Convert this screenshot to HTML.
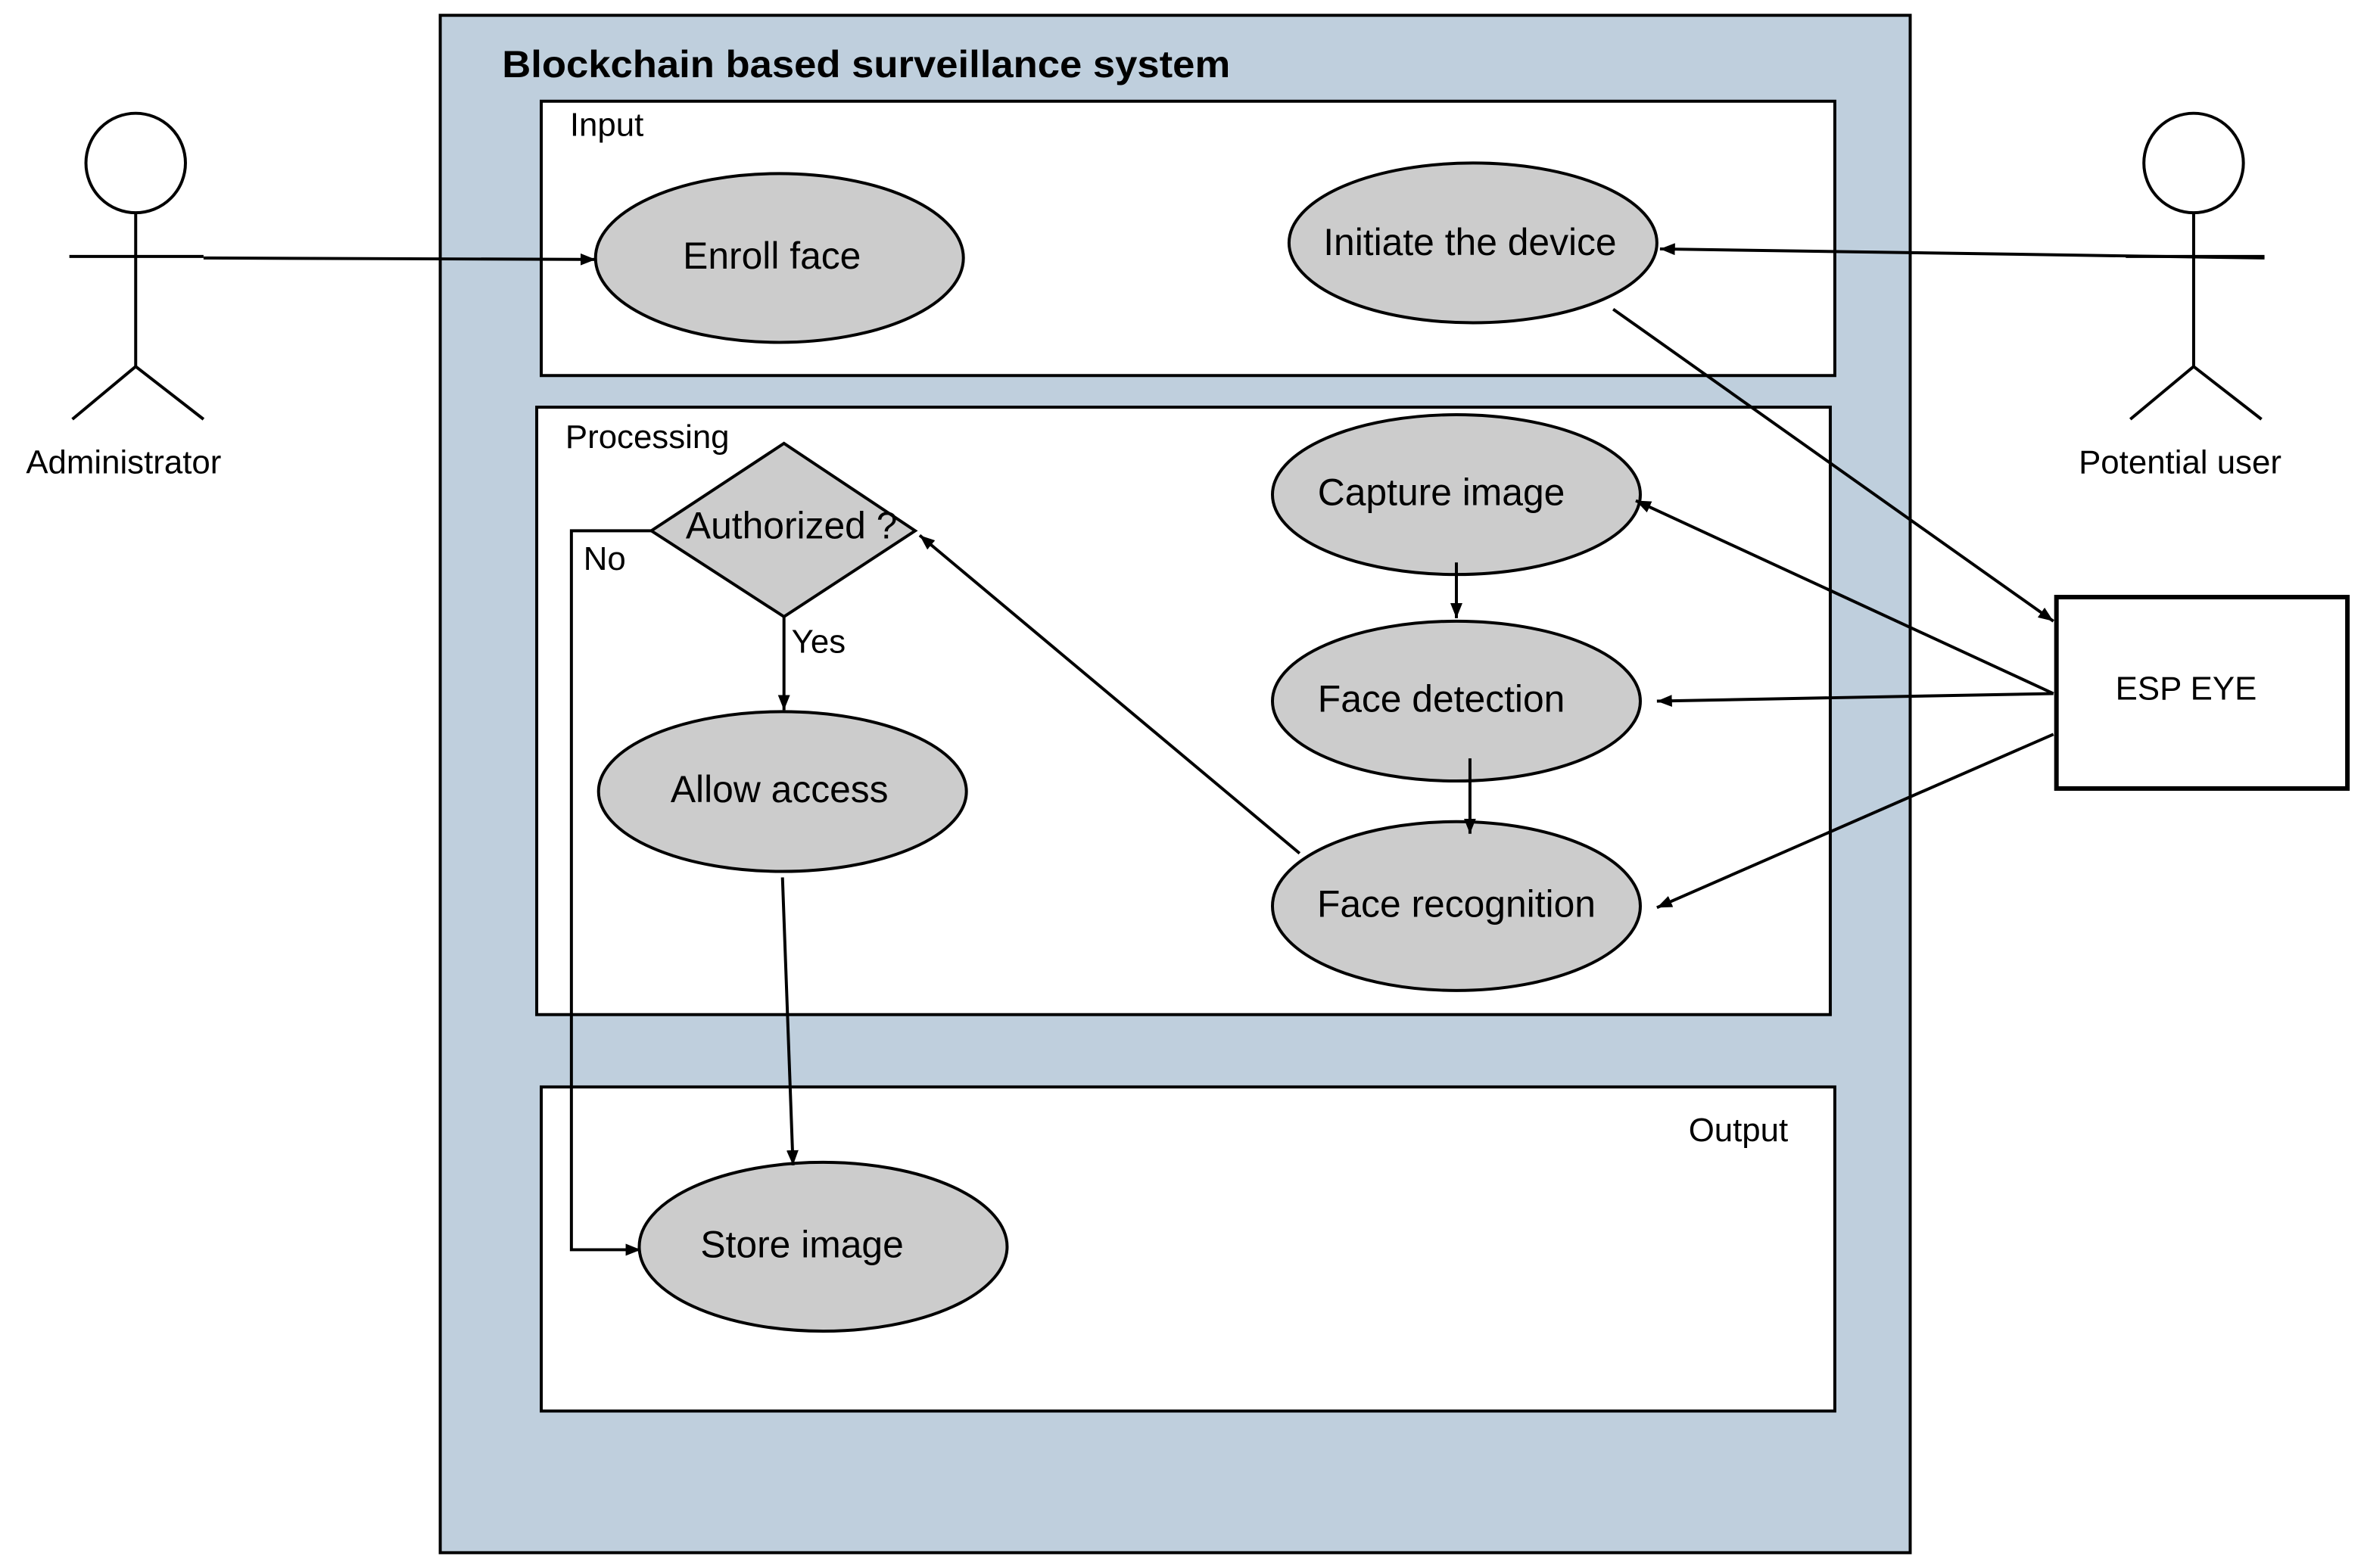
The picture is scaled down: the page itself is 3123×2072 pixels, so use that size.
<!DOCTYPE html>
<html><head><meta charset="utf-8"><style>html,body{margin:0;padding:0;background:#fff}svg{display:block}</style></head>
<body>
<svg width="3123" height="2072" viewBox="0 0 1568 1040" xmlns="http://www.w3.org/2000/svg" font-family="Liberation Sans, Arial, sans-serif">
<defs><marker id="a" markerWidth="10" markerHeight="8" refX="10" refY="4" orient="auto" markerUnits="userSpaceOnUse"><path d="M0,0 L10,4 L0,8 z" fill="#000"/></marker></defs>
<rect x="0" y="0" width="1568" height="1040" fill="#fff"/>
<rect x="292" y="10" width="975" height="1020" fill="#bfcfdd" stroke="#000" stroke-width="2"/>
<text x="333" y="51" font-size="25" font-weight="bold" textLength="483" lengthAdjust="spacingAndGlyphs">Blockchain based surveillance system</text>
<rect x="359" y="67" width="858" height="182" fill="#fff" stroke="#000" stroke-width="2"/>
<text x="378" y="90" font-size="22">Input</text>
<rect x="356" y="270" width="858" height="403" fill="#fff" stroke="#000" stroke-width="2"/>
<text x="375" y="297" font-size="22">Processing</text>
<rect x="359" y="721" width="858" height="215" fill="#fff" stroke="#000" stroke-width="2"/>
<text x="1120" y="757" font-size="22">Output</text>
<g fill="#cccccc" stroke="#000" stroke-width="2">
<ellipse cx="517" cy="171" rx="122" ry="56"/>
<ellipse cx="977" cy="161" rx="122" ry="53"/>
<ellipse cx="966" cy="328" rx="122" ry="53"/>
<ellipse cx="966" cy="465" rx="122" ry="53"/>
<ellipse cx="966" cy="601" rx="122" ry="56"/>
<ellipse cx="519" cy="525" rx="122" ry="53"/>
<ellipse cx="546" cy="827" rx="122" ry="56"/>
<polygon points="520,294 607,352 520,409 432,352"/>
</g>
<g font-size="25" text-anchor="middle">
<text x="512" y="178">Enroll face</text>
<text x="975" y="169">Initiate the device</text>
<text x="956" y="335">Capture image</text>
<text x="956" y="472">Face detection</text>
<text x="966" y="608">Face recognition</text>
<text x="517" y="532">Allow access</text>
<text x="532" y="834">Store image</text>
<text x="525" y="357">Authorized ?</text>
</g>
<text x="387" y="378" font-size="22">No</text>
<text x="525" y="433" font-size="22">Yes</text>
<rect x="1364" y="396" width="193" height="127" fill="#fff" stroke="#000" stroke-width="3"/>
<text x="1450" y="464" font-size="22" text-anchor="middle">ESP EYE</text>
<g fill="none" stroke="#000" stroke-width="2">
<circle cx="90" cy="108" r="33"/>
<path d="M90,141 V243 M46,170 H135 M90,243 L48,278 M90,243 L135,278"/>
<circle cx="1455" cy="108" r="33"/>
<path d="M1455,141 V243 M1410,170 H1502 M1455,243 L1413,278 M1455,243 L1500,278"/>
</g>
<text x="82" y="314" font-size="22" text-anchor="middle">Administrator</text>
<text x="1446" y="314" font-size="22" text-anchor="middle">Potential user</text>
<g fill="none" stroke="#000" stroke-width="2" marker-end="url(#a)">
<path d="M135,171 L395,172"/>
<path d="M1502,171 L1101,165"/>
<path d="M1070,205 L1362,412"/>
<path d="M1362,460 L1085,332"/>
<path d="M1362,460 L1099,465"/>
<path d="M1362,487 L1099,602"/>
<path d="M966,373 L966,410"/>
<path d="M975,503 L975,553"/>
<path d="M862,566 L610,355"/>
<path d="M520,409 L520,471"/>
<path d="M432,352 H379 V829 H425"/>
<path d="M519,582 L526,773"/>
</g>
</svg>
</body></html>
